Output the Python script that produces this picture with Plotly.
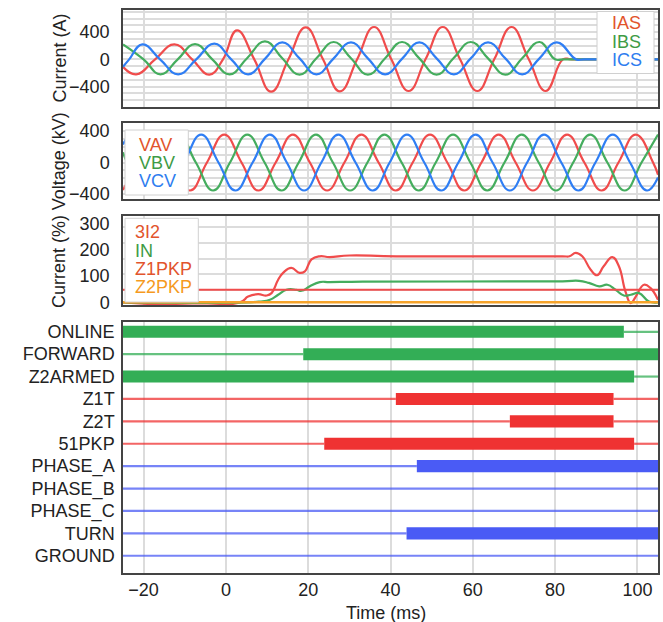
import plotly.graph_objects as go

# ---------------- DATA ----------------
# Panel 1: phase currents (A), extrema & zero crossings, time in ms
ias_t = [-25, -21.8, -17.2, -12.5, -8.2, -4.0, -0.7, 2.7, 6.9, 11.0, 15.2, 19.4, 23.6, 27.7, 31.9,
         36.0, 40.2, 44.4, 48.5, 52.7, 56.9, 61.1, 65.2, 69.4, 73.6, 77.7, 81.9, 84.0, 105]
ias_v = [-110, -220, 0, 220, 0, -225, 0, 425, 0, -475, 0, 470, 0, -470, 0,
         475, 0, -465, 0, 475, 0, -465, 0, 475, 0, -465, 0, 0, 0]

ibs_t = [-25, -20.0, -15.9, -11.7, -7.5, -3.3, 0.9, 5.2, 9.5, 13.7, 17.9, 22.0, 26.2, 30.4, 34.5,
         38.7, 42.8, 47.0, 51.2, 55.3, 59.5, 63.7, 67.9, 72.0, 76.2, 80.0, 82.0, 105]
ibs_v = [220, 0, -220, 0, 225, 0, -220, 20, 265, 15, -225, 15, 255, 15, -225,
         15, 255, 15, -225, 15, 255, 15, -225, 15, 255, 0, 0, 0]

ics_t = [-25, -23.5, -20.3, -16.0, -11.6, -7.2, -2.8, 1.3, 5.4, 9.6, 13.7, 17.9, 22.0, 26.2, 30.4,
         34.5, 38.7, 42.9, 47.0, 51.2, 55.4, 59.5, 63.7, 67.9, 72.0, 76.2, 80.4, 85.1, 87.0, 105]
ics_v = [-110, 0, 220, 0, -220, 0, 230, 0, -220, 15, 250, 15, -220, 15, 250,
         15, -220, 15, 250, 15, -220, 15, 250, 15, -220, 15, 250, 0, 0, 0]

# Panel 2: phase voltages (kV)
vav_t = [-25, -21.2, -17.1, -12.9, -8.7, -4.6, -0.4, 3.8, 7.9, 12.1, 16.3, 20.4, 24.6, 28.8, 32.9, 37.1,
         41.3, 45.4, 49.6, 53.8, 57.9, 62.1, 66.3, 70.4, 74.6, 78.8, 82.9, 87.1, 91.3, 95.4, 99.6, 103.8, 105]
vav_v = [-350, 0, 355, 0, -355, 0, 355, 0, -355, 0, 355, 0, -355, 0, 355, 0,
         -355, 0, 355, 0, -355, 0, 355, 0, -355, 0, 355, 0, -355, 0, 355, 0, -155]

vbv_t = [-25, -24.0, -19.8, -15.6, -11.5, -7.3, -3.1, 1.0, 5.2, 9.4, 13.5, 17.7, 21.9, 26.0, 30.2, 34.4,
         38.5, 42.7, 46.9, 51.0, 55.2, 59.4, 63.5, 67.7, 71.9, 76.0, 80.2, 84.4, 88.5, 92.7, 96.9, 101.0, 105]
vbv_v = [130, 0, -355, 0, 355, 0, -355, 0, 355, 0, -355, 0, 355, 0, -355, 0,
         355, 0, -355, 0, 355, 0, -355, 0, 355, 0, -355, 0, 355, 0, -355, 0, 355]

vcv_t = [-25, -22.7, -18.5, -14.3, -10.2, -6.0, -1.8, 2.3, 6.5, 10.7, 14.8, 19.0, 23.2, 27.3, 31.5, 35.7,
         39.8, 44.0, 48.2, 52.3, 56.5, 60.7, 64.8, 69.0, 73.2, 77.3, 81.5, 85.7, 89.8, 94.0, 98.2, 102.3, 105]
vcv_v = [230, 355, 0, -355, 0, 355, 0, -355, 0, 355, 0, -355, 0, 355, 0, -355,
         0, 355, 0, -355, 0, 355, 0, -355, 0, 355, 0, -355, 0, 355, 0, -355, -190]

# Panel 3: sequence / neutral currents (%)
i3i2_t = [-25, 3.4, 5.4, 7.8, 9.9, 11.1, 12.7, 13.9, 15.9, 17.9, 19.2, 20.8, 22.8, 25.2, 30.0, 41.4,
          81.8, 83.5, 85.0, 86.6, 88.6, 90.2, 91.8, 93.9, 95.5, 97.1, 98.4, 99.6, 101.6, 103.2, 105]
i3i2_v = [0, 0, 22, 31, 26, 35, 86, 112, 131, 112, 118, 163, 175, 172, 178, 175,
          175, 175, 188, 175, 125, 103, 137, 172, 137, 41, -3, 22, 67, 54, 10]

in_t = [-25, 5.4, 8.2, 10.7, 12.7, 14.7, 17.1, 18.4, 20.4, 22.8, 25.2, 33.3,
        81.8, 85.8, 88.2, 90.7, 92.7, 94.7, 96.7, 98.4, 100.4, 102.8, 105]
in_v = [0, 0, 3, 10, 29, 48, 48, 44, 61, 77, 77, 79,
        80, 82, 74, 61, 67, 48, 26, 29, 35, 3, 0]

z1pkp_t = [-25, 105]
z1pkp_v = [48, 48]
z2pkp_t = [-25, 105]
z2pkp_v = [0, 0]

# Panel 4: digital elements (asserted interval, ms)
sig_names = ["ONLINE", "FORWARD", "Z2ARMED", "Z1T", "Z2T", "51PKP",
             "PHASE_A", "PHASE_B", "PHASE_C", "TURN", "GROUND"]
sig_on = [-25, 18.8, -25, 41.3, 69.0, 23.9, 46.4, None, None, 43.9, None]
sig_off = [96.7, 105, 99.2, 94.2, 94.2, 99.2, 105, None, None, 105, None]

x_ticks = [-20, 0, 20, 40, 60, 80, 100]
T0, T1 = -25, 105

# ---------------- STYLE ----------------
FONT = "Liberation Sans, Arial, sans-serif"
RED, GREEN, BLUE, ORANGE = "#f04c4c", "#45ad5e", "#2f7ef4", "#f6a32a"
TRED, TGREEN, TBLUE, TORANGE = "#e2542c", "#3e9b45", "#2e7def", "#f59a1e"
DRED, DGREEN, DBLUE = "#ef3232", "#33ae56", "#4a5bf5"
GRID = "#dcdcdc"
FRAME = "#444444"

W, H = 663, 622
ML, MR, MT, MB = 123, 5, 10, 49
PW, PH = W - ML - MR, H - MT - MB


def py(ypix):  # pixel -> paper y
    return (H - MB - ypix) / PH


def px(xpix):
    return (xpix - ML) / PW


fig = go.Figure()

def line(t, v, color, xa, ya, width=2.2):
    fig.add_trace(go.Scatter(x=t, y=v, mode="lines", line=dict(color=color, width=width, shape="spline", smoothing=1.3),
                             xaxis=xa, yaxis=ya, showlegend=False, hoverinfo="skip"))

line(ias_t, ias_v, RED, "x", "y")
line(ibs_t, ibs_v, GREEN, "x", "y")
line(ics_t, ics_v, BLUE, "x", "y")

line(vav_t, vav_v, RED, "x2", "y2")
line(vbv_t, vbv_v, GREEN, "x2", "y2")
line(vcv_t, vcv_v, BLUE, "x2", "y2")

line(i3i2_t, i3i2_v, RED, "x3", "y3")
line(in_t, in_v, GREEN, "x3", "y3")
fig.add_trace(go.Scatter(x=z1pkp_t, y=z1pkp_v, mode="lines", line=dict(color=RED, width=2),
                         xaxis="x3", yaxis="y3", showlegend=False, hoverinfo="skip"))
fig.add_trace(go.Scatter(x=z2pkp_t, y=z2pkp_v, mode="lines", line=dict(color=ORANGE, width=2.5),
                         xaxis="x3", yaxis="y3", showlegend=False, hoverinfo="skip"))

# digital panel
sig_colors = [DGREEN] * 3 + [DRED] * 3 + [DBLUE] * 5
for i, name in enumerate(sig_names):
    c = sig_colors[i]
    on, off = sig_on[i], sig_off[i]
    if on is None:
        lx, ly = [T0, T1], [i, i]
    else:
        lx, ly = [], []
        if on > T0:
            lx += [T0, on, None]
            ly += [i, i, None]
        if off < T1:
            lx += [off, T1]
            ly += [i, i]
    fig.add_trace(go.Scatter(x=lx, y=ly, mode="lines", line=dict(color=c, width=2.2), opacity=0.75,
                             xaxis="x4", yaxis="y4", showlegend=False, hoverinfo="skip"))
    if on is not None:
        fig.add_trace(go.Bar(x=[off - on], base=[on], y=[i], orientation="h", width=0.54,
                             marker=dict(color=c, line=dict(color=c, width=0)),
                             xaxis="x4", yaxis="y4", showlegend=False, hoverinfo="skip"))

# ---------------- LAYOUT ----------------
doms = [
    (py(107), py(10)),
    (py(199.3), py(123.3)),
    (py(305), py(216)),
    (0, py(321.7)),
]

axis_common = dict(showline=True, mirror=True, linecolor=FRAME, linewidth=1.5, zeroline=False,
                   automargin=False, tickfont=dict(family=FONT, size=18, color="#222"))

layout = dict(
    width=W, height=H, margin=dict(l=ML, r=MR, t=MT, b=MB, autoexpand=False),
    paper_bgcolor="white", plot_bgcolor="white", barmode="overlay",
    font=dict(family=FONT, size=18, color="#222"), showlegend=False,
)
for k in range(4):
    xa = "xaxis" if k == 0 else f"xaxis{k+1}"
    ya = "y" if k == 0 else f"y{k+1}"
    layout[xa] = dict(axis_common, domain=[0, 1], anchor=ya, range=[T0, T1], tickvals=x_ticks,
                      showticklabels=(k == 3), showgrid=True, gridcolor=GRID, gridwidth=1.5,
                      ticks="", ticklabelstandoff=0)

layout["yaxis"] = dict(axis_common, domain=list(doms[0]), anchor="x", range=[-700, 725],
                       tickvals=[-400, 0, 400], showgrid=True, gridcolor=GRID, gridwidth=1.5,
                       minor=dict(dtick=100, tick0=0, showgrid=True, gridcolor=GRID, gridwidth=1.5),
                       ticks="", ticklabelstandoff=8)
layout["yaxis2"] = dict(axis_common, domain=list(doms[1]), anchor="x2", range=[-467, 498],
                        tickvals=[-400, 0, 400], showgrid=True, gridcolor=GRID, gridwidth=1.5,
                        minor=dict(dtick=100, tick0=0, showgrid=True, gridcolor=GRID, gridwidth=1.5),
                        ticks="", ticklabelstandoff=8)
layout["yaxis3"] = dict(axis_common, domain=list(doms[2]), anchor="x3", range=[-10, 328],
                        tickvals=[0, 100, 200, 300], showgrid=False,
                        minor=dict(tickvals=[48, 106, 166, 226, 285], showgrid=True, gridcolor=GRID, gridwidth=1.5),
                        ticks="", ticklabelstandoff=8)
layout["yaxis4"] = dict(axis_common, domain=list(doms[3]), anchor="x4", range=[10.77, -0.45],
                        tickvals=list(range(len(sig_names))), ticktext=sig_names, showgrid=False,
                        ticks="", ticklabelstandoff=3)

fig.update_layout(**layout)

# axis titles
for txt, yc in [("Current (A)", 58.5), ("Voltage (kV)", 161.3), ("Current (%)", 262)]:
    fig.add_annotation(text=txt, xref="paper", yref="paper", x=px(59), y=py(yc), textangle=-90,
                       showarrow=False, font=dict(family=FONT, size=18, color="#222"),
                       xanchor="center", yanchor="middle")
fig.add_annotation(text="Time (ms)", xref="paper", yref="paper", x=px(386), y=py(613),
                   showarrow=False, font=dict(family=FONT, size=18, color="#222"),
                   xanchor="center", yanchor="middle")

# legend boxes (colored text only)
def legend_box(x0, y0, x1, y1, items, xl):
    fig.add_shape(type="rect", xref="paper", yref="paper", x0=px(x0), x1=px(x1), y0=py(y1), y1=py(y0),
                  fillcolor="white", line=dict(color="#d0d0d0", width=1), layer="above")
    for txt, col, yc in items:
        fig.add_annotation(text=txt, xref="paper", yref="paper", x=px(xl), y=py(yc), showarrow=False,
                           xanchor="left", yanchor="middle", font=dict(family=FONT, size=18, color=col))

legend_box(597, 11.5, 654, 73.5, [("IAS", TRED, 23.3), ("IBS", TGREEN, 41.7), ("ICS", TBLUE, 60)], 610)
legend_box(125, 130, 188.3, 195, [("VAV", TRED, 145.5), ("VBV", TGREEN, 162.5), ("VCV", TBLUE, 180.5)], 137)
legend_box(125, 218.3, 198.3, 302, [("3I2", TRED, 232), ("IN", TGREEN, 250.5), ("Z1PKP", TRED, 269),
                                     ("Z2PKP", TORANGE, 287)], 132.7)

fig.write_html("out.html", config={"displayModeBar": False},
               post_script="document.body.style.margin='0';document.body.style.padding='0';"
                           "document.body.style.overflow='hidden';")
